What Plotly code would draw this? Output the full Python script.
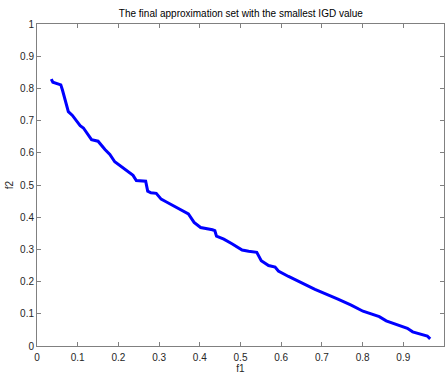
import plotly.graph_objects as go

f1 = [0.035, 0.039, 0.0585, 0.0625, 0.077, 0.087, 0.106, 0.114, 0.134, 0.150, 0.167,
      0.179, 0.191, 0.211, 0.236, 0.244, 0.267, 0.272, 0.280, 0.293, 0.305, 0.317, 0.352,
      0.372, 0.386, 0.402, 0.431, 0.437, 0.441, 0.459, 0.480, 0.504, 0.520, 0.540, 0.551,
      0.569, 0.585, 0.593, 0.618, 0.650, 0.683, 0.738, 0.772, 0.801, 0.817, 0.841, 0.858,
      0.886, 0.910, 0.923, 0.939, 0.959, 0.966]
f2 = [0.829, 0.819, 0.811, 0.795, 0.728, 0.716, 0.684, 0.677, 0.641, 0.636, 0.610,
      0.595, 0.572, 0.554, 0.530, 0.514, 0.512, 0.481, 0.476, 0.474, 0.456, 0.448, 0.425,
      0.410, 0.384, 0.368, 0.361, 0.358, 0.341, 0.332, 0.317, 0.298, 0.294, 0.291, 0.265,
      0.250, 0.245, 0.233, 0.216, 0.197, 0.176, 0.146, 0.127, 0.108, 0.101, 0.091, 0.078,
      0.065, 0.055, 0.044, 0.039, 0.031, 0.022]
ticks = [round(i * 0.1, 1) for i in range(11)]
tick_text = ["0" if t == 0 else ("1" if t == 1 else str(t)) for t in ticks]

fig = go.Figure(go.Scatter(x=f1, y=f2, mode="lines",
                           line=dict(color="#0000FF", width=3), showlegend=False))

axis_common = dict(range=[0, 1], tickvals=ticks, ticktext=tick_text,
                   ticks="inside", ticklen=4, tickcolor="#808080",
                   showline=True, linecolor="#808080", linewidth=1, mirror="ticks",
                   showgrid=False, zeroline=False,
                   tickfont=dict(family="Liberation Sans, Arial", size=10, color="#262626"))

fig.update_xaxes(**axis_common, ticklabelstandoff=2,
                 title=dict(text="f1", standoff=3,
                            font=dict(family="Liberation Sans, Arial", size=10, color="#262626")))
fig.update_yaxes(**axis_common,
                 title=dict(text="f2", standoff=4,
                            font=dict(family="Liberation Sans, Arial", size=10, color="#262626")))

fig.update_layout(
    width=446, height=374,
    margin=dict(l=37, r=1, t=24, b=26),
    paper_bgcolor="white", plot_bgcolor="white",
    title=dict(text="The final approximation set with the smallest IGD value",
               x=0.54, xanchor="center", y=0.965, yanchor="middle",
               font=dict(family="Liberation Sans, Arial", size=10, color="#000000")),
)

fig.write_html("out.html")
